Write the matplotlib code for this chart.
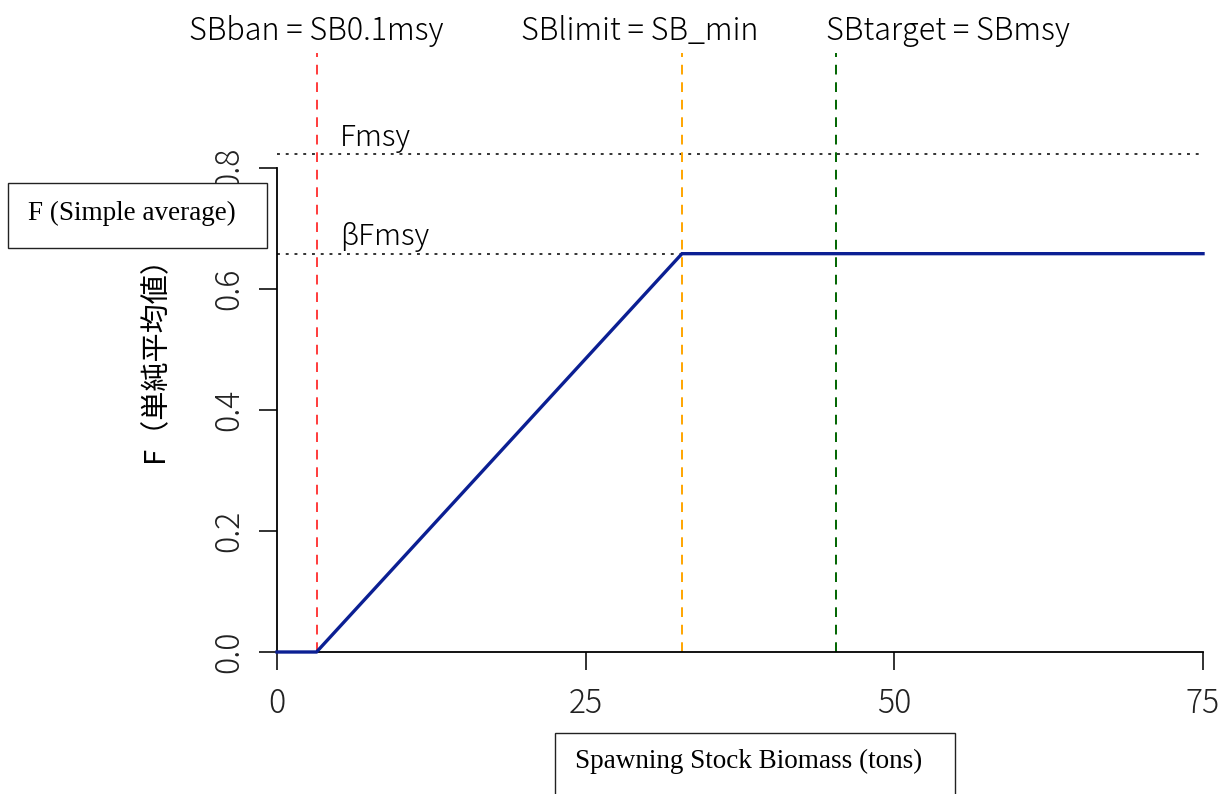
import matplotlib
matplotlib.use("Agg")
import matplotlib.pyplot as plt
from matplotlib.patches import Rectangle
from matplotlib.transforms import blended_transform_factory

plt.rcParams['font.family'] = ['Noto Sans CJK JP', 'DejaVu Sans']
plt.rcParams['font.weight'] = 'light'

# Reference points of the harvest control rule
sb_ban = 3.2
sb_limit = 32.8
sb_target = 45.3
f_msy = 0.823
beta = 0.8
f_target = beta * f_msy
sb_max = 75

# Harvest control rule: F by spawning stock biomass
hcr_sb = [0, sb_ban, sb_limit, sb_max]
hcr_f = [0, 0, f_target, f_target]

x_ticks = [0, 25, 50, 75]
y_ticks = [0.0, 0.2, 0.4, 0.6, 0.8]
y_tick_labels = ["0.0", "0.2", "0.4", "0.6", "0.8"]

W, H = 1227, 794
fig = plt.figure(figsize=(W / 100, H / 100), dpi=100)
ax = fig.add_axes([277 / W, 1 - 652 / H, 950 / W, 599 / H])

ax.set_xlim(0, 950 / 12.347)
ax.set_ylim(0, 599 / 605)

# reference lines
ax.axhline(f_msy, xmin=0, xmax=sb_max / ax.get_xlim()[1], color='#333333',
           lw=1.4, linestyle=(0, (1.5, 3.0)))
ax.axhline(f_target, xmin=0, xmax=sb_max / ax.get_xlim()[1], color='#333333',
           lw=1.4, linestyle=(0, (1.5, 3.0)))
ax.axvline(sb_ban, color='#ff3b3b', lw=1.4, linestyle=(0, (5, 4)))
ax.axvline(sb_limit, color='#ffa500', lw=1.4, linestyle=(0, (5, 4)))
ax.axvline(sb_target, color='#006400', lw=1.4, linestyle=(0, (5, 4)))

ax.plot(hcr_sb, hcr_f, color='#0b1f93', lw=2.4, solid_joinstyle='miter',
        clip_on=False, zorder=5)

ax.text(5.1, f_msy + 0.002, "Fmsy", fontsize=21.5, ha='left', va='bottom')
ax.text(5.1, f_target + 0.002, "βFmsy", fontsize=21.5, ha='left', va='bottom')

top = blended_transform_factory(ax.transData, ax.transAxes)
ax.text(sb_ban, 1.036, "SBban = SB0.1msy", transform=top, fontsize=22,
        ha='center', va='center')
ax.text(sb_limit - 3.4, 1.036, "SBlimit = SB_min", transform=top, fontsize=22,
        ha='center', va='center')
ax.text(sb_target + 9.0, 1.036, "SBtarget = SBmsy", transform=top, fontsize=22,
        ha='center', va='center')

# R-style axes
for side in ('top', 'right'):
    ax.spines[side].set_visible(False)
ax.spines['left'].set_bounds(0, 0.8)
ax.spines['bottom'].set_bounds(0, sb_max)
ax.spines['left'].set_linewidth(1.3)
ax.spines['bottom'].set_linewidth(1.3)

ax.set_xticks(x_ticks)
ax.set_xticklabels([str(v) for v in x_ticks])
ax.set_yticks(y_ticks)
ax.set_yticklabels(y_tick_labels, rotation=90, va='center')
ax.tick_params(axis='x', direction='out', length=13, width=1.3, pad=12,
               labelsize=23, colors='#222222')
ax.tick_params(axis='y', direction='out', length=13, width=1.3, pad=9,
               labelsize=23, colors='#222222')

ax.set_ylabel("F（単純平均値）", fontsize=21)
ax.yaxis.set_label_coords(-0.112, 0.5)

# boxed English axis titles
fig.patches.append(Rectangle((8 / W, 1 - 248 / H), 259 / W, 65 / H,
                             transform=fig.transFigure, facecolor='white',
                             edgecolor='#222222', lw=1.0, zorder=10))
fig.text(28 / W, 1 - 213 / H, "F (Simple average)", family='Liberation Serif',
         weight='normal', fontsize=19.5, ha='left', va='center', zorder=11)

fig.patches.append(Rectangle((555 / W, 1 - 810 / H), 400 / W, 77 / H,
                             transform=fig.transFigure, facecolor='white',
                             edgecolor='#222222', lw=1.0, zorder=10))
fig.text(575 / W, 1 - 761 / H, "Spawning Stock Biomass (tons)",
         family='Liberation Serif', weight='normal', fontsize=19.5,
         ha='left', va='center', zorder=11)

fig.savefig("out.png", dpi=100)
